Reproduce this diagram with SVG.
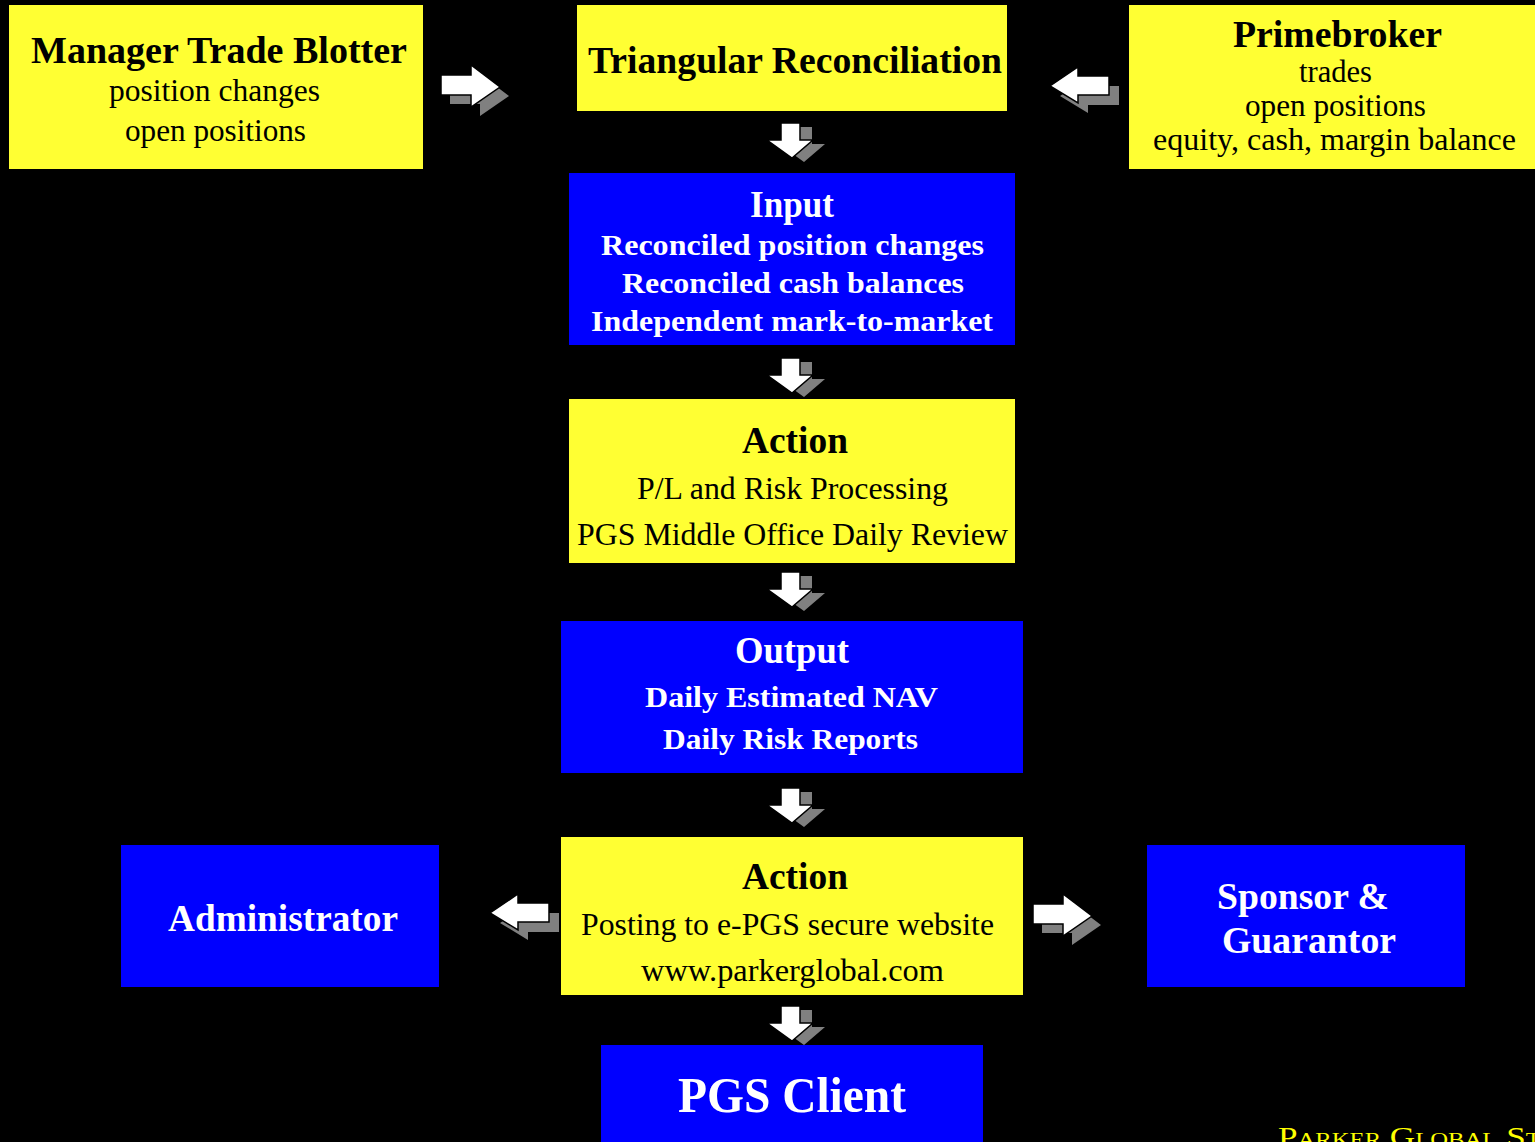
<svg xmlns="http://www.w3.org/2000/svg" width="1535" height="1142" viewBox="0 0 1535 1142">
<style>
.y{fill:#FFFF33}
.b{fill:#0000FF}
text{font-family:"Liberation Serif","Times New Roman",serif;text-anchor:middle}
.h{font-size:37px;font-weight:bold;fill:#000}
.hw{font-size:37px;font-weight:bold;fill:#fff}
.t{font-size:31px;fill:#000}
.tw{font-size:30px;font-weight:bold;fill:#fff}
.sh{fill:#808080}
.ar{fill:#fff;stroke:#000;stroke-width:1.5}
</style>
<defs>
<path id="rA" d="M0,-10 H30 V-20 L59,2 L30,22 V10 H0 Z"/>
<path id="lA" d="M0,0 L28,-19 V-10 H59 V9 H28 V17 Z"/>
<path id="dA" d="M-11,-35 H8 V-18 H21 L0,0 L-25,-18 H-11 Z"/>
<g id="right"><use href="#rA" class="sh" x="9" y="9"/><use href="#rA" class="ar"/></g>
<g id="left"><use href="#lA" class="sh" x="10" y="10"/><use href="#lA" class="ar"/></g>
<g id="down"><use href="#dA" class="sh" x="12" y="4"/><use href="#dA" class="ar"/></g>
</defs>
<rect width="1535" height="1142" fill="#000"/>

<g id="connectors">
<use href="#right" x="441" y="85"/>
<use href="#left" x="1050" y="86"/>
<use href="#down" x="792" y="158"/>
<use href="#down" x="792" y="393"/>
<use href="#down" x="792" y="607"/>
<use href="#down" x="792" y="823"/>
<use href="#down" x="792" y="1041"/>
<use href="#left" x="490" y="913"/>
<use href="#right" x="1033" y="914"/>
</g>

<g id="blotter">
<rect class="y" x="9" y="5" width="414" height="164"/>
<text class="h" x="219" y="63" textLength="376" lengthAdjust="spacingAndGlyphs">Manager Trade Blotter</text>
<text class="t" x="214.5" y="101" textLength="211" lengthAdjust="spacingAndGlyphs">position changes</text>
<text class="t" x="215.5" y="141" textLength="181" lengthAdjust="spacingAndGlyphs">open positions</text>
</g>

<g id="triangular">
<rect class="y" x="577" y="5" width="430" height="106"/>
<text class="h" x="795" y="73" textLength="414" lengthAdjust="spacingAndGlyphs">Triangular Reconciliation</text>
</g>

<g id="primebroker">
<rect class="y" x="1129" y="5" width="406" height="164"/>
<text class="h" x="1337.5" y="47" textLength="209" lengthAdjust="spacingAndGlyphs">Primebroker</text>
<text class="t" x="1335.5" y="82" textLength="73" lengthAdjust="spacingAndGlyphs">trades</text>
<text class="t" x="1335.5" y="116" textLength="181" lengthAdjust="spacingAndGlyphs">open positions</text>
<text class="t" x="1334.5" y="150" textLength="363" lengthAdjust="spacingAndGlyphs">equity, cash, margin balance</text>
</g>

<g id="input">
<rect class="b" x="569" y="173" width="446" height="172"/>
<text class="hw" x="792" y="217" textLength="84" lengthAdjust="spacingAndGlyphs">Input</text>
<text class="tw" x="792.5" y="255" textLength="383" lengthAdjust="spacingAndGlyphs">Reconciled position changes</text>
<text class="tw" x="793" y="293" textLength="342" lengthAdjust="spacingAndGlyphs">Reconciled cash balances</text>
<text class="tw" x="792" y="331" textLength="402" lengthAdjust="spacingAndGlyphs">Independent mark-to-market</text>
</g>

<g id="action1">
<rect class="y" x="569" y="399" width="446" height="164"/>
<text class="h" x="795" y="453" textLength="106" lengthAdjust="spacingAndGlyphs">Action</text>
<text class="t" x="792.5" y="499" textLength="311" lengthAdjust="spacingAndGlyphs">P/L and Risk Processing</text>
<text class="t" x="792.5" y="545" textLength="431" lengthAdjust="spacingAndGlyphs">PGS Middle Office Daily Review</text>
</g>

<g id="output">
<rect class="b" x="561" y="621" width="462" height="152"/>
<text class="hw" x="792" y="663" textLength="114" lengthAdjust="spacingAndGlyphs">Output</text>
<text class="tw" x="791.5" y="707" textLength="293" lengthAdjust="spacingAndGlyphs">Daily Estimated NAV</text>
<text class="tw" x="790.5" y="749" textLength="255" lengthAdjust="spacingAndGlyphs">Daily Risk Reports</text>
</g>

<g id="action2">
<rect class="y" x="561" y="837" width="462" height="158"/>
<text class="h" x="795" y="889" textLength="106" lengthAdjust="spacingAndGlyphs">Action</text>
<text class="t" x="787.5" y="935" textLength="413" lengthAdjust="spacingAndGlyphs">Posting to e-PGS secure website</text>
<text class="t" x="792.5" y="981" textLength="303" lengthAdjust="spacingAndGlyphs">www.parkerglobal.com</text>
</g>

<g id="administrator">
<rect class="b" x="121" y="845" width="318" height="142"/>
<text class="hw" x="283" y="931" textLength="230" lengthAdjust="spacingAndGlyphs">Administrator</text>
</g>

<g id="sponsor">
<rect class="b" x="1147" y="845" width="318" height="142"/>
<text class="hw" x="1303" y="909" textLength="172" lengthAdjust="spacingAndGlyphs">Sponsor &amp;</text>
<text class="hw" x="1309" y="953" textLength="174" lengthAdjust="spacingAndGlyphs">Guarantor</text>
</g>

<g id="client">
<rect class="b" x="601" y="1045" width="382" height="110"/>
<text class="hw" x="792" y="1112" style="font-size:50px" textLength="228" lengthAdjust="spacingAndGlyphs">PGS Client</text>
</g>

<text transform="translate(1278,1146) scale(1.3,1)" style="text-anchor:start;font-size:27px;fill:#FFFF00;font-variant:small-caps">Parker Global Strategies</text>
</svg>
